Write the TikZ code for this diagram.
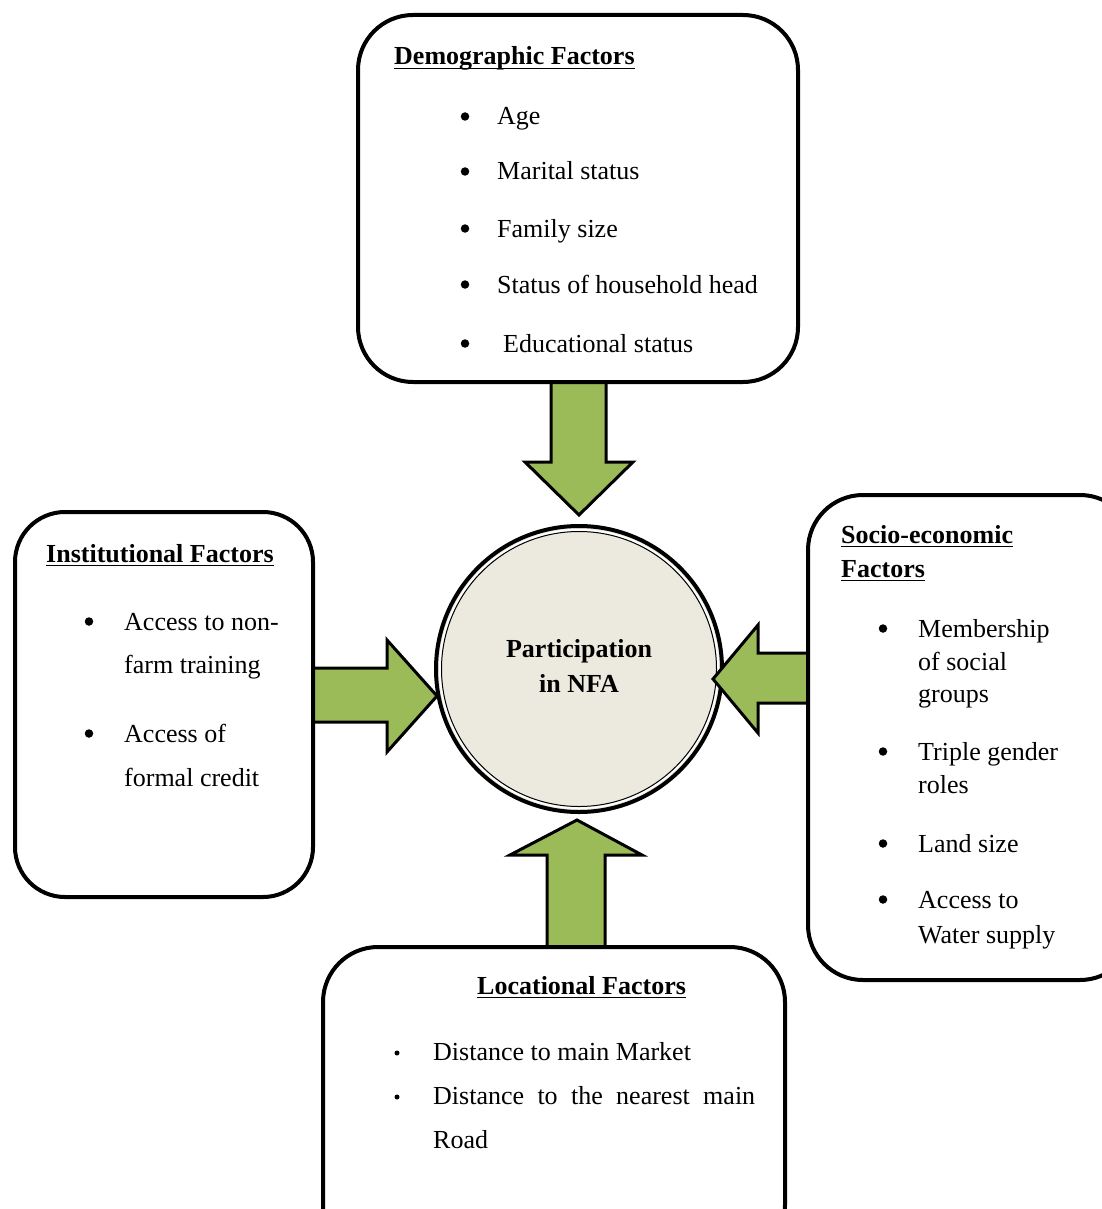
\documentclass[tikz,border=0pt]{standalone}
\usepackage{fontspec}
\setmainfont{Liberation Serif}
\usetikzlibrary{calc}
\definecolor{agreen}{HTML}{9BBB59}
\definecolor{cfill}{HTML}{ECEADF}
\begin{document}
\begin{tikzpicture}[x=1pt,y=-1pt,
  box/.style={draw, line width=4pt, rounded corners=55pt, fill=white, inner sep=0},
  txt/.style={anchor=base west, inner sep=0, font=\fontsize{26}{30}\selectfont},
  ttl/.style={anchor=base west, inner sep=0, font=\fontsize{26}{30}\selectfont\bfseries},
  bul/.style={circle, fill=black, inner sep=0, minimum size=8.5pt, yshift=8.5pt},
  sbul/.style={circle, fill=black, inner sep=0, minimum size=5pt, yshift=7pt},
  blk/.style={fill=agreen, draw=black, line width=3pt, line join=miter},
  ul/.style={line width=1.3pt}]
\path[use as bounding box] (0,0) rectangle (1102,1209);
\clip (0,0) rectangle (1102,1209);

% central circle
\node[circle, minimum size=286pt, fill=cfill, draw, line width=4pt, inner sep=0] (c) at (579,669) {};
\draw[white, line width=2pt] (c.center) circle (139pt);
\draw[line width=1pt] (c.center) circle (137.5pt);
\node[ttl, anchor=base] (p1) at (579,657) {Participation};
\node[ttl, anchor=base] (p2) at (579,692) {in NFA};

% block arrows
\draw[blk] (551,380) -- (606,380) -- (606,462) -- (633,462) -- (579,515) -- (525,462) -- (551,462) -- cycle;
\draw[blk] (313,668) -- (387,668) -- (387,640) -- (437,696) -- (387,752) -- (387,722) -- (313,722) -- cycle;
\draw[blk] (810,653) -- (758,653) -- (758,625) -- (713,679) -- (758,733) -- (758,703) -- (810,703) -- cycle;
\draw[blk] (547,949) -- (547,855) -- (510,855) -- (577,820) -- (642,855) -- (605,855) -- (605,949) -- cycle;

% boxes
\node[box, minimum width=440pt, minimum height=367pt] (demo) at (578,198.5) {};
\node[box, minimum width=298pt, minimum height=385pt, rounded corners=50pt] (inst) at (164,704.5) {};
\node[box, minimum width=327pt, minimum height=485pt] (socio) at (971.5,737.5) {};
\node[box, minimum width=462pt, minimum height=313pt] (loc) at (554,1103.5) {};

% Demographic
\node[ttl] (dt) at (394,65) {Demographic Factors};
\draw[ul] ([yshift=-3.5pt]dt.base west) -- ([yshift=-3.5pt]dt.base east);
\node[bul] (db1) at (465,125) {};
\node[txt] (d1) at (497,125) {Age};
\node[bul] (db2) at (465,180) {};
\node[txt] (d2) at (497,180) {Marital status};
\node[bul] (db3) at (465,237) {};
\node[txt] (d3) at (497,237) {Family size};
\node[bul] (db4) at (465,293) {};
\node[txt] (d4) at (497,293) {Status of household head};
\node[bul] (db5) at (465,352) {};
\node[txt] (d5) at (503,352) {Educational status};

% Institutional
\node[ttl] (it) at (46,562) {Institutional Factors};
\draw[ul] ([yshift=-3.5pt]it.base west) -- ([yshift=-3.5pt]it.base east);
\node[bul] (ib1) at (89,630) {};
\node[txt] (i1) at (124,630) {Access to non-};
\node[txt] (i2) at (124,673) {farm training};
\node[bul] (ib2) at (89,742) {};
\node[txt] (i3) at (124,742) {Access of};
\node[txt] (i4) at (124,786) {formal credit};

% Socio-economic
\node[ttl] (st1) at (841,543) {Socio-economic};
\draw[ul] ([yshift=-3.5pt]st1.base west) -- ([yshift=-3.5pt]st1.base east);
\node[ttl] (st2) at (841,577) {Factors};
\draw[ul] ([yshift=-3.5pt]st2.base west) -- ([yshift=-3.5pt]st2.base east);
\node[bul] (sb1) at (883,637) {};
\node[txt] (s1) at (918,637) {Membership};
\node[txt] (s2) at (918,670) {of social};
\node[txt] (s3) at (918,702) {groups};
\node[bul] (sb2) at (883,760) {};
\node[txt] (s4) at (918,760) {Triple gender};
\node[txt] (s5) at (918,793) {roles};
\node[bul] (sb3) at (883,852) {};
\node[txt] (s6) at (918,852) {Land size};
\node[bul] (sb4) at (883,908) {};
\node[txt] (s7) at (918,908) {Access to};
\node[txt] (s8) at (918,943) {Water supply};

% Locational
\node[ttl] (lt) at (477,994) {Locational Factors};
\draw[ul] ([yshift=-3.5pt]lt.base west) -- ([yshift=-3.5pt]lt.base east);
\node[sbul] (lb1) at (397,1060) {};
\node[txt] (l1) at (433,1060) {Distance to main Market};
\node[sbul] (lb2) at (397,1104) {};
\node[txt] (l2) at (433,1104) {\hbox to 322pt{Distance\hfill to\hfill the\hfill nearest\hfill main}};
\node[txt] (l3) at (433,1148) {Road};
\end{tikzpicture}
\end{document}
